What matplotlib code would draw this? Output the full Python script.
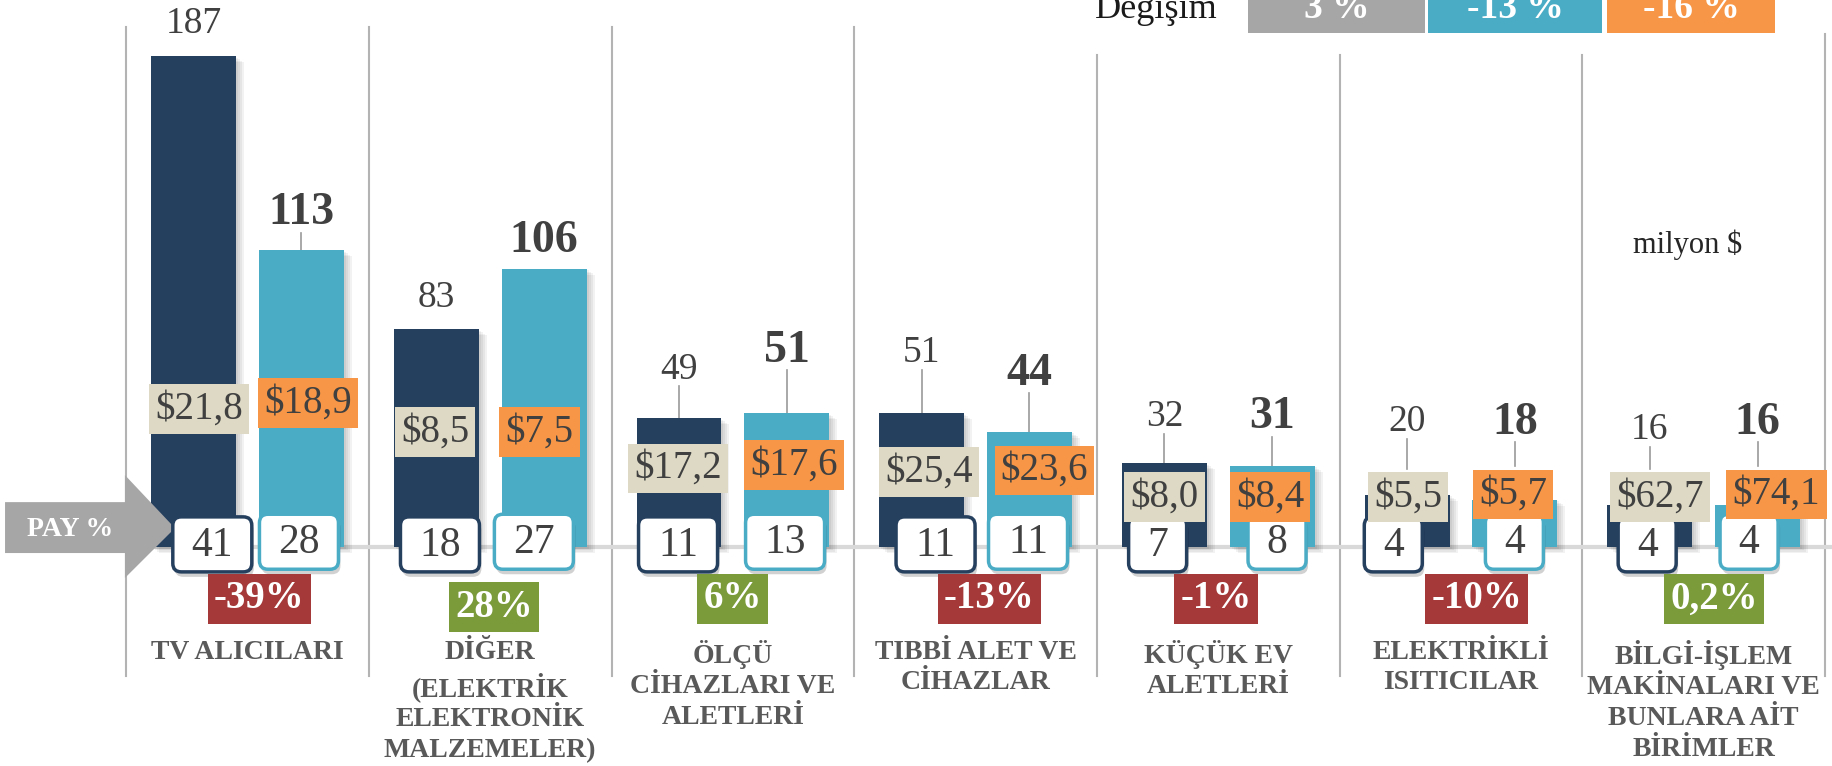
import numpy as np
import matplotlib
matplotlib.use("Agg")
import matplotlib.pyplot as plt
from matplotlib.patches import Rectangle, FancyBboxPatch, Polygon

plt.rcParams["font.family"] = ["Liberation Serif", "DejaVu Serif"]

# data
categories = [
    "TV ALICILARI",
    "DİĞER\n(ELEKTRİK\nELEKTRONİK\nMALZEMELER)",
    "ÖLÇÜ\nCİHAZLARI VE\nALETLERİ",
    "TIBBİ ALET VE\nCİHAZLAR",
    "KÜÇÜK EV\nALETLERİ",
    "ELEKTRİKLİ\nISITICILAR",
    "BİLGİ-İŞLEM\nMAKİNALARI VE\nBUNLARA AİT\nBİRİMLER",
]
prev = [187, 83, 49, 51, 32, 20, 16]
curr = [113, 106, 51, 44, 31, 18, 16]
share_prev = ["41", "18", "11", "11", "7", "4", "4"]
share_curr = ["28", "27", "13", "11", "8", "4", "4"]
unit_prev = ["$21,8", "$8,5", "$17,2", "$25,4", "$8,0", "$5,5", "$62,7"]
unit_curr = ["$18,9", "$7,5", "$17,6", "$23,6", "$8,4", "$5,7", "$74,1"]
change = ["-39%", "28%", "6%", "-13%", "-1%", "-10%", "0,2%"]
legend_vals = ["3 %", "-13 %", "-16 %"]

# layout (hand placed, like the original slide)
dol_dx_prev = [-0.20, -0.227, -0.227, -0.192, -0.222, -0.218, -0.18]
dol_dx_curr = [0.249, 0.204, 0.251, 0.284, 0.213, 0.214, 0.30]
dol_y_prev = [52.6, 43.8, 29.9, 28.6, 19.0, 19.1, 19.1]
dol_y_curr = [54.9, 43.8, 31.2, 29.2, 19.0, 20.0, 20.0]
pay_dx_prev = [-0.145, -0.207, -0.226, -0.165, -0.25, -0.279, -0.233]
pay_dx_curr = [0.212, 0.18, 0.215, 0.216, 0.242, 0.22, 0.187]
chg_dx = [0.049, 0.016, 0.0, 0.057, -0.01, 0.065, 0.043]
chg_y = [-19.8, -22.9, -19.8, -19.8, -19.8, -19.8, -19.8]
gap_prev = [12.5, 12, 18.7, 23, 17.5, 18, 14.8]
gap_curr = [14.3, 10.6, 23.8, 22, 18.4, 16.7, 16.7]

NAVY = "#253F5F"
CYAN = "#4BACC6"
ORANGE = "#F79646"
BEIGE = "#DDD9C4"
GRAY = "#A6A6A6"
RED = "#A53939"
GREEN = "#7B9B3B"
TXT = "#404040"

PX_X = 242.7   # pixels per category
PX_Y = 2.624   # pixels per value unit
BOX_HALF = 10.7  # half height of the price boxes, value units

fig = plt.figure(figsize=(18.32, 7.66), dpi=100)
ax = fig.add_axes([0, 0, 1, 1])
ax.set_xlim(-247.5 / PX_X, (1832 - 247.5) / PX_X)
ax.set_ylim(-219 / PX_Y, 547 / PX_Y)
ax.axis("off")

n = len(categories)
x = np.arange(n)
off = 0.222
bw = 0.35

# group separators and base line
sep_top = [198, 198, 198, 198, 187.6, 187.6, 187.6, 195.5]
for k in range(n + 1):
    ax.plot([k - 0.5, k - 0.5], [sep_top[k], -49], color="#B3B3B3", lw=1.5, zorder=1)
ax.plot([-0.6, 6.6], [0, 0], color="#D9D9D9", lw=3, zorder=1.5)

# bars with a soft shadow
for s in range(1, 5):
    for xs, vals in ((x - off, prev), (x + off, curr)):
        ax.bar(xs + s * 2 / PX_X, vals, bw, bottom=-s * 1.5 / PX_Y,
               color="black", alpha=0.05, zorder=2)
ax.bar(x - off, prev, bw, color=NAVY, zorder=3)
ax.bar(x + off, curr, bw, color=CYAN, zorder=3)

# PAY % arrow
arrow = Polygon([(-0.999, 17.1), (-0.505, 17.1), (-0.505, 27.4), (-0.299, 7.2),
                 (-0.505, -11.8), (-0.505, -2.3), (-0.999, -2.3)],
                closed=True, fc=GRAY, ec="none", zorder=4)
ax.add_patch(arrow)
ax.text(-0.731, 6.5, "PAY %", ha="center", va="center", fontsize=20,
        fontweight="bold", color="white", zorder=4.5)

asp = PX_X / PX_Y
for i in range(n):
    # value labels above bars, with leader lines down to the bar or price box
    for xb, v, g, dy, bold in ((i - off, prev[i], gap_prev[i], dol_y_prev[i], False),
                               (i + off, curr[i], gap_curr[i], dol_y_curr[i], True)):
        top = max(v, dy + BOX_HALF)
        ly = top + g
        ax.text(xb, ly, str(v), ha="center", va="center",
                fontsize=33 if bold else 27,
                fontweight="bold" if bold else "normal", color=TXT, zorder=7)
        if g > 13:
            ax.plot([xb, xb], [ly - (7.5 if bold else 6.5), top],
                    color="#999999", lw=1.2, zorder=2.5)

    # unit price boxes
    ax.text(i + dol_dx_prev[i], dol_y_prev[i], unit_prev[i], ha="center", va="center",
            fontsize=28, color=TXT, zorder=6,
            bbox=dict(boxstyle="square,pad=0.16", fc=BEIGE, ec="none"))
    ax.text(i + dol_dx_curr[i], dol_y_curr[i], unit_curr[i], ha="center", va="center",
            fontsize=28, color=TXT, zorder=6,
            bbox=dict(boxstyle="square,pad=0.16", fc=ORANGE, ec="none"))

    # share boxes
    for dx, s, ec, yc in ((pay_dx_prev[i], share_prev[i], NAVY, 1.0),
                          (pay_dx_curr[i], share_curr[i], CYAN, 2.0)):
        w = (37 + 21 * len(s)) / PX_X
        h = 55 / PX_Y
        x0 = i + dx - w / 2
        y0 = yc - h / 2
        sh = FancyBboxPatch((x0 + 2 / PX_X, y0 - 5 / PX_Y), w, h,
                            boxstyle="round,pad=0,rounding_size=0.035",
                            mutation_aspect=asp, fc="black", ec="none",
                            alpha=0.18, zorder=4.8)
        ax.add_patch(sh)
        box = FancyBboxPatch((x0, y0), w, h,
                             boxstyle="round,pad=0,rounding_size=0.035",
                             mutation_aspect=asp, fc="white", ec=ec, lw=2.5,
                             zorder=5)
        ax.add_patch(box)
        ax.text(i + dx, yc - 0.5, s, ha="center", va="center", fontsize=30,
                color=TXT, zorder=5.5)

    # change boxes
    ax.text(i + chg_dx[i], chg_y[i], change[i], ha="center", va="center",
            fontsize=28, fontweight="bold", color="white", zorder=6,
            bbox=dict(boxstyle="square,pad=0.16",
                      fc=RED if change[i].startswith("-") else GREEN, ec="none"))

    # category names
    ax.text(i, -35.3, categories[i], ha="center", va="top", fontsize=20,
            fontweight="bold", color="#595959", linespacing=1.3, zorder=7)

# legend at the top
ax.text(3.996, 201.6, "Degişim", ha="right", va="baseline", fontsize=26,
        color="#1A1A1A", zorder=7)
leg_x = [4.122, 4.864, 5.603]
leg_w = [0.730, 0.717, 0.691]
leg_c = [GRAY, CYAN, ORANGE]
for lx, lw_, lc, lv in zip(leg_x, leg_w, leg_c, legend_vals):
    ax.add_patch(Rectangle((lx, 195.9), lw_, 20, fc=lc, ec="none", zorder=6))
    ax.text(lx + lw_ / 2, 201.6, lv, ha="center", va="baseline", fontsize=27,
            fontweight="bold", color="white", zorder=7)

ax.text(5.935, 115.1, "milyon $", ha="center", va="center", fontsize=22,
        color="#262626", zorder=7)

fig.savefig("out.png", dpi=100)
